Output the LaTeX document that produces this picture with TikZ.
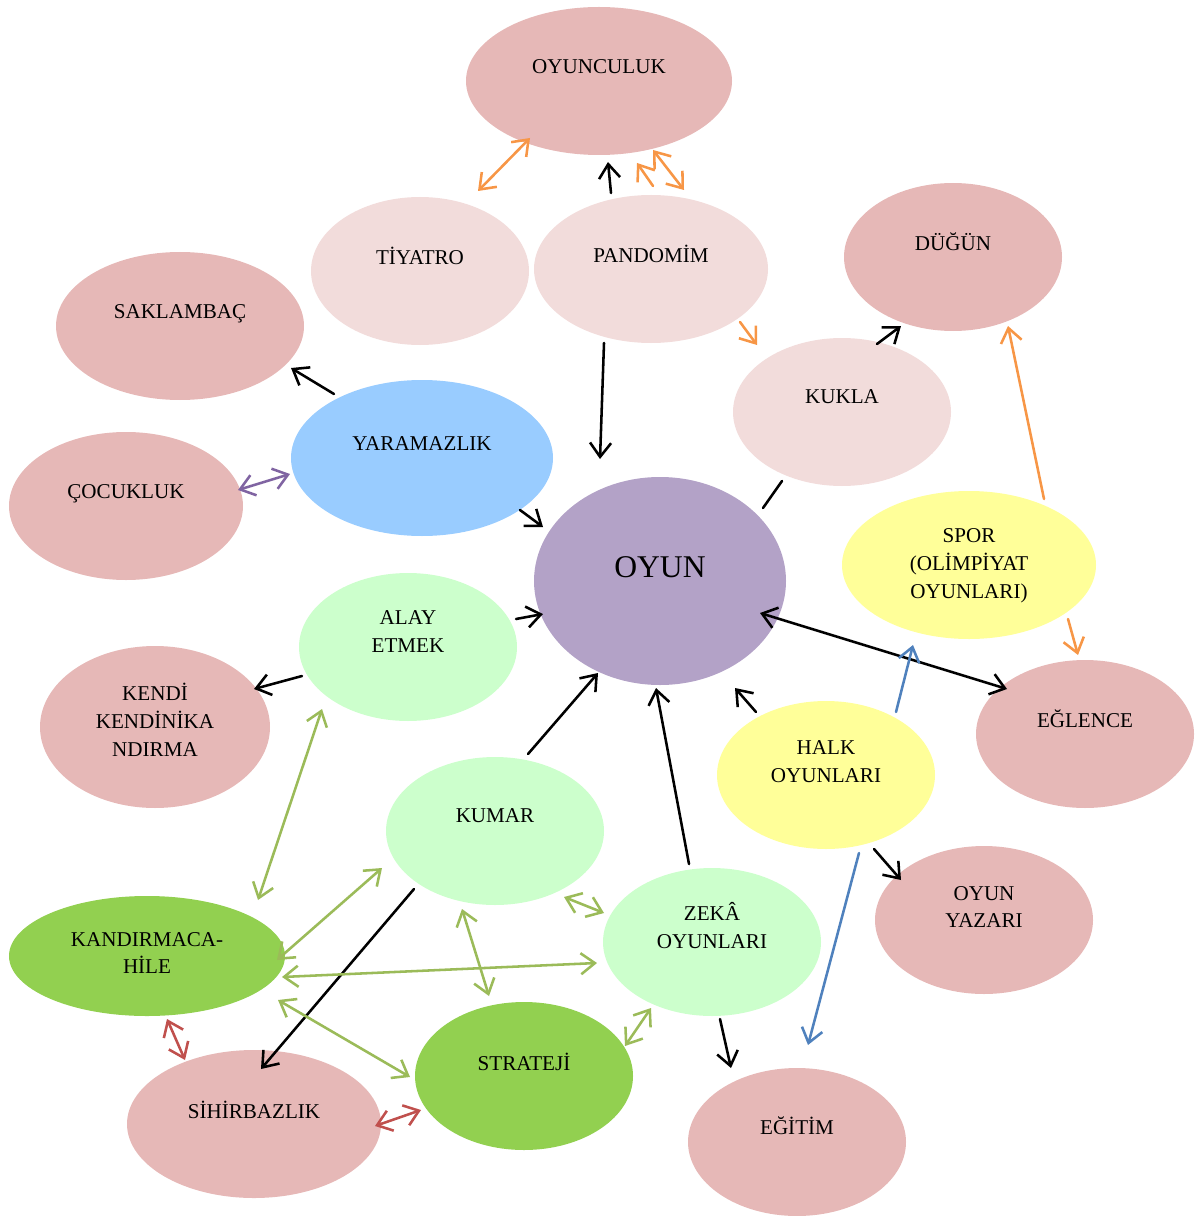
\documentclass[tikz,border=0pt]{standalone}
\usepackage{fontspec}
\setmainfont{Liberation Serif}
\usetikzlibrary{shapes.geometric,arrows.meta,calc}
\definecolor{rose}{HTML}{E6B8B7}
\definecolor{lpink}{HTML}{F2DCDB}
\definecolor{skyb}{HTML}{99CCFF}
\definecolor{lav}{HTML}{B3A2C7}
\definecolor{yel}{HTML}{FFFF99}
\definecolor{mint}{HTML}{CCFFCC}
\definecolor{grn}{HTML}{92D050}
\definecolor{aor}{HTML}{F79646}
\definecolor{apu}{HTML}{8064A2}
\definecolor{abl}{HTML}{4F81BD}
\definecolor{agr}{HTML}{9BBB59}
\definecolor{are}{HTML}{C0504D}
\tikzset{
  ell/.style 2 args={ellipse, minimum width={2*#1*0.02cm}, minimum height={2*#2*0.02cm}, inner sep=0pt, draw=none},
  txt/.style={font=\fontsize{12}{15.9}\selectfont, align=center, inner sep=0pt, text=black},
  con/.style={line width=1.45pt, line cap=round},
  one/.style={con, -{Straight Barb[length=8pt,width=12pt,line width=1.45pt]}},
  two/.style={con, {Straight Barb[length=8pt,width=12pt,line width=1.45pt]}-{Straight Barb[length=8pt,width=12pt,line width=1.45pt]}},
}
\begin{document}
\begin{tikzpicture}[x=0.02cm,y=-0.02cm]
\useasboundingbox (0,0) rectangle (1198,1216);
% ellipses
\node[ell={133}{74}, fill=rose] (ocl) at (599,81) {};
\node[ell={109}{74}, fill=lpink] (tiy) at (420,271) {};
\node[ell={117}{74}, fill=lpink] (pan) at (651,269) {};
\node[ell={109}{74}, fill=rose] (dug) at (953,257) {};
\node[ell={124}{74}, fill=rose] (sak) at (180,326) {};
\node[ell={109}{74}, fill=lpink] (kuk) at (842,412) {};
\node[ell={131}{78}, fill=skyb] (yar) at (422,458) {};
\node[ell={117}{74}, fill=rose] (coc) at (126,506) {};
\node[ell={126}{104}, fill=lav] (oyn) at (660,581) {};
\node[ell={127}{74}, fill=yel] (spr) at (969,565) {};
\node[ell={109}{74}, fill=mint] (aly) at (408,647) {};
\node[ell={115}{81}, fill=rose] (ken) at (155,727) {};
\node[ell={109}{74}, fill=rose] (egl) at (1085,734) {};
\node[ell={109}{74}, fill=yel] (hlk) at (826,775) {};
\node[ell={109}{74}, fill=mint] (kum) at (495,831) {};
\node[ell={109}{74}, fill=rose] (yaz) at (984,920) {};
\node[ell={138}{60}, fill=grn] (kan) at (147,956) {};
\node[ell={109}{74}, fill=mint] (zek) at (712,942) {};
\node[ell={109}{74}, fill=grn] (str) at (524,1076) {};
\node[ell={127}{74}, fill=rose] (sih) at (254,1124) {};
\node[ell={109}{74}, fill=rose] (egt) at (797,1142) {};
% texts
\node[txt] (tocl) at ($(ocl)+(0,-14)$) {OYUNCULUK};
\node[txt] (ttiy) at ($(tiy)+(0,-15)$) {TİYATRO};
\node[txt] (tpan) at ($(pan)+(0,-15)$) {PANDOMİM};
\node[txt] (tdug) at ($(dug)+(0,-15)$) {DÜĞÜN};
\node[txt] (tsak) at ($(sak)+(0,-12)$) {SAKLAMBAÇ};
\node[txt] (tkuk) at ($(kuk)+(0,-15)$) {KUKLA};
\node[txt] (tyar) at ($(yar)+(0,-14)$) {YARAMAZLIK};
\node[txt] (tcoc) at ($(coc)+(0,-12)$) {ÇOCUKLUK};
\node[txt, font=\fontsize{18}{20}\selectfont] (toyn) at ($(oyn)+(0,-14)$) {OYUN};
\node[txt] (tspr) at ($(spr)+(0,1)$) {SPOR\\(OLİMPİYAT\\OYUNLARI)};
\node[txt] (taly) at ($(aly)+(0,-15)$) {ALAY\\ETMEK};
\node[txt] (tken) at ($(ken)+(0,-7)$) {KENDİ\\KENDİNİKA\\NDIRMA};
\node[txt] (tegl) at ($(egl)+(0,-15)$) {EĞLENCE};
\node[txt] (thlk) at ($(hlk)+(0,-13)$) {HALK\\OYUNLARI};
\node[txt] (tkum) at ($(kum)+(0,-15)$) {KUMAR};
\node[txt] (tyaz) at ($(yaz)+(0,-13)$) {OYUN\\YAZARI};
\node[txt] (tkan) at ($(kan)+(0,-3)$) {KANDIRMACA-\\HİLE};
\node[txt] (tzek) at ($(zek)+(0,-16)$) {ZEKÂ\\OYUNLARI};
\node[txt] (tstr) at ($(str)+(0,-14)$) {STRATEJİ};
\node[txt] (tsih) at ($(sih)+(0,-14)$) {SİHİRBAZLIK};
\node[txt] (tegt) at ($(egt)+(0,-16)$) {EĞİTİM};
% black connectors
\draw[one] ($(yar)+(-88,-64)$) -- ($(sak)+(111,42)$);
\draw[one] ($(pan)+(-47,74)$) -- ($(oyn)+(-60,-122)$);
\draw[one] ($(pan)+(-40,-76)$) -- ($(ocl)+(9,81)$);
\draw[one] ($(yar)+(98,52)$) -- ($(oyn)+(-117,-54)$);
\draw[one] ($(aly)+(108,-28)$) -- ($(oyn)+(-117,33)$);
\draw[one] ($(aly)+(-106,29)$) -- ($(ken)+(99,-38)$);
\draw[one] ($(kum)+(33,-77)$) -- ($(oyn)+(-62,92)$);
\draw[one] ($(zek)+(-23,-78)$) -- ($(oyn)+(-4,107)$);
\draw[one] ($(hlk)+(-70,-63)$) -- ($(oyn)+(75,107)$);
\draw[con] ($(kuk)+(-60,69)$) -- ($(oyn)+(103,-73)$);
\draw[one] ($(kuk)+(35,-68)$) -- ($(dug)+(-52,69)$);
\draw[two] ($(oyn)+(100,32)$) -- ($(egl)+(-78,-45)$);
\draw[one] ($(hlk)+(48,74)$) -- ($(yaz)+(-83,-40)$);
\draw[one] ($(kum)+(-81,58)$) -- ($(sih)+(7,-55)$);
\draw[one] ($(zek)+(8,77)$) -- ($(egt)+(-66,-74)$);
% orange connectors
\draw[two, aor] ($(tiy)+(58,-80)$) -- ($(ocl)+(-69,57)$);
\draw[two, aor] ($(pan)+(33,-79)$) -- ($(ocl)+(54,69)$);
\draw[one, aor] ($(pan)+(2,-83)$) -- ($(ocl)+(38,82)$);
\draw[one, aor] ($(pan)+(89,53)$) -- ($(kuk)+(-85,-67)$);
\draw[one, aor] ($(spr)+(75,-66)$) -- ($(dug)+(55,69)$);
\draw[one, aor] ($(spr)+(99,54)$) -- ($(egl)+(-7,-79)$);
% purple connector
\draw[two, apu] ($(coc)+(112,-16)$) -- ($(yar)+(-132,16)$);
% blue connectors
\draw[one, abl] ($(hlk)+(70,-63)$) -- ($(spr)+(-56,80)$);
\draw[one, abl] ($(hlk)+(33,78)$) -- ($(egt)+(11,-97)$);
% green connectors
\draw[two, agr] ($(aly)+(-86,62)$) -- ($(kan)+(111,-56)$);
\draw[two, agr] ($(kum)+(-113,37)$) -- ($(kan)+(130,4)$);
\draw[two, agr] ($(kan)+(135,21)$) -- ($(zek)+(-115,21)$);
\draw[two, agr] ($(kan)+(131,44)$) -- ($(str)+(-114,1)$);
\draw[two, agr] ($(kum)+(-33,78)$) -- ($(str)+(-35,-80)$);
\draw[two, agr] ($(kum)+(69,66)$) -- ($(zek)+(-108,-29)$);
\draw[two, agr] ($(str)+(101,-30)$) -- ($(zek)+(-61,66)$);
% red connectors
\draw[two, are] ($(kan)+(20,63)$) -- ($(sih)+(-69,-64)$);
\draw[two, are] ($(sih)+(121,2)$) -- ($(str)+(-103,34)$);
\end{tikzpicture}
\end{document}
